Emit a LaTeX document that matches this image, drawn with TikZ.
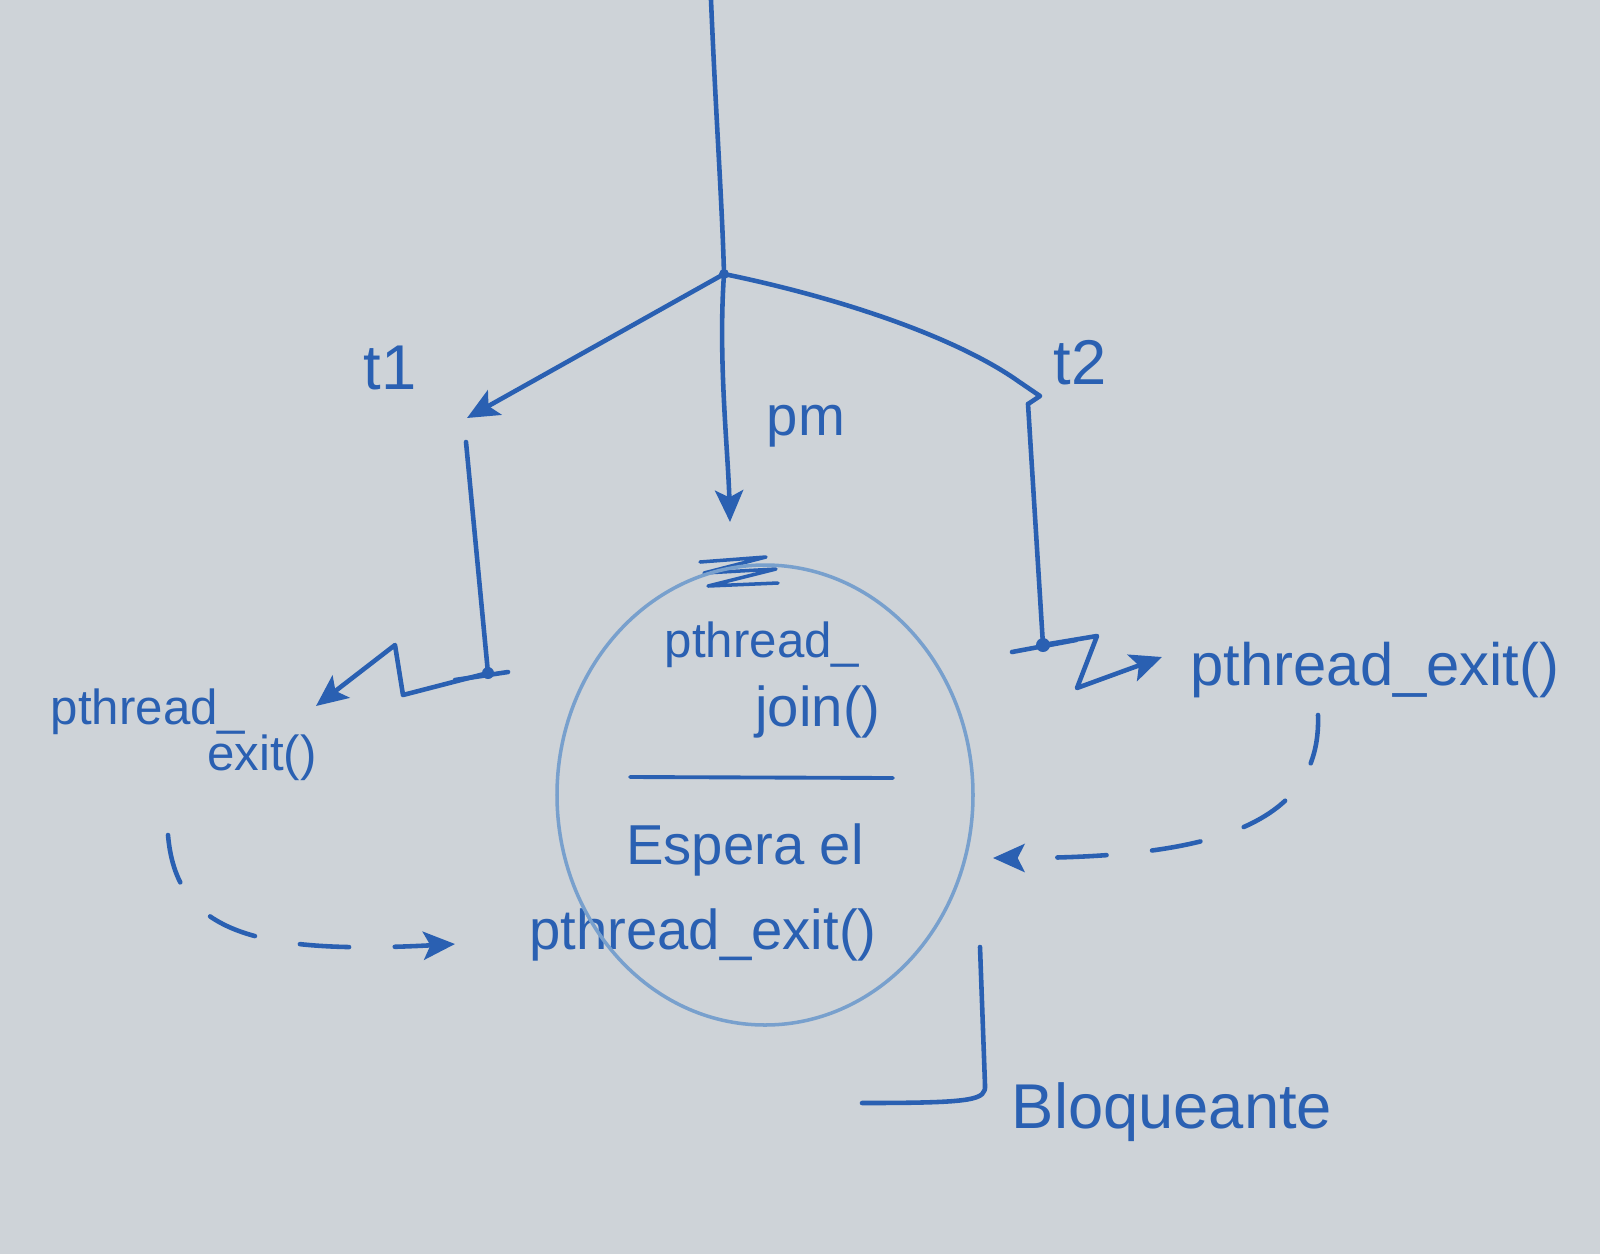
\documentclass[tikz,border=0pt]{standalone}
\usepackage{fontspec}
\setmainfont{Liberation Sans}
\usepackage{xcolor}
\usetikzlibrary{calc, positioning, arrows.meta}

\definecolor{marker}{RGB}{42,96,178}
\definecolor{board}{RGB}{206,211,216}
\definecolor{pencil}{RGB}{120,160,205}

\tikzset{
    pen/.style={draw=marker, line width=1.3pt, line cap=round, line join=round},
    dashpen/.style={pen, dash pattern=on 14pt off 13pt},
    hand/.style={text=marker, inner sep=1pt, font=\fontsize{16}{19}\selectfont},
    dot/.style={fill=marker}
}

\begin{document}
\begin{tikzpicture}[>={Stealth[length=9pt, width=8pt, inset=2pt]}, x=0.01cm, y=-0.01cm]

    % =================================================================
    % 1. FONDO (PIZARRA)
    % =================================================================
    \fill[board] (0,0) rectangle (1600,1254);
    \useasboundingbox (0,0) rectangle (1600,1254);

    % =================================================================
    % 2. PUNTOS PRINCIPALES
    % =================================================================
    \coordinate (Top) at (711,0);
    \coordinate (O) at (724,274);
    \coordinate (T1) at (467,418);
    \coordinate (L1) at (466,442);
    \coordinate (L2) at (488,673);
    \coordinate (Z1) at (403,695);
    \coordinate (Z2) at (395,645);
    \coordinate (Z3) at (316,706);
    \coordinate (M1) at (730,522);
    \coordinate (T2) at (1018,381);
    \coordinate (K1) at (1040,396);
    \coordinate (K2) at (1028,404);
    \coordinate (R2) at (1043,645);
    \coordinate (W1) at (1097,636);
    \coordinate (W2) at (1077,688);
    \coordinate (W3) at (1162,657);
    \coordinate (D1) at (168,835);
    \coordinate (D2) at (455,944);
    \coordinate (E1) at (1318,715);
    \coordinate (E2) at (993,858);

    % =================================================================
    % 3. TEXTOS
    % =================================================================
    \node[hand, font=\fontsize{18}{20}\selectfont] (t1) at (390,368) {t1};
    \node[hand, font=\fontsize{18}{20}\selectfont] (t2) at (1080,363) {t2};
    \node[hand] (pm) at (806,426) {pm};

    \node[hand, font=\fontsize{14}{17}\selectfont] (exitL1) at (148,712) {pthread\_};
    \node[hand, font=\fontsize{14}{17}\selectfont] (exitL2) at (262,758) {exit()};
    \node[hand, font=\fontsize{17}{20}\selectfont] (exitR) at (1375,670) {pthread\_exit()};

    \node[hand, font=\fontsize{14}{17}\selectfont] (join1) at (762,645) {pthread\_};
    \node[hand] (join2) at (818,712) {join()};
    \node[hand] (espera) at (745,850) {Espera el};
    \node[hand] (exitC) at (703,935) {pthread\_exit()};
    \node[hand, font=\fontsize{18}{21}\selectfont] (bloq) at (1172,1112) {Bloqueante};

    % =================================================================
    % 4. TRAZOS
    % =================================================================
    % Hilo principal y creacion de t1, t2
    \draw[pen] (Top) .. controls (716,120) and (722,200) .. (O);
    \draw[pen, ->] (O) -- (T1);
    \draw[pen, ->] (O) .. controls (718,360) and (728,450) .. (M1);
    \draw[pen] (O) .. controls (850,300) and (960,340) .. (T2) -- (K1) -- (K2);

    % t1 hasta su pthread_exit()
    \draw[pen] (L1) -- (L2);
    \draw[pen] (455,680) -- (508,672);
    \draw[pen, ->] (L2) -- (Z1) -- (Z2) -- (Z3);

    % t2 hasta su pthread_exit()
    \draw[pen] (K2) -- (R2);
    \draw[pen] (1012,652) -- (1076,640);
    \draw[pen, ->] (R2) -- (W1) -- (W2) -- (W3);

    % Tachon encima del circulo
    \draw[pen, line width=1pt] (700,562) -- (766,557) -- (704,573) -- (776,569) -- (708,586) -- (778,583);

    % Circulo de pthread_join()
    \draw[pencil, line width=1pt] (765,795) ellipse (208 and 230);
    \draw[pen, line width=1.1pt] (630,777) -- (893,778);

    % Flechas punteadas hacia la espera
    \draw[dashpen, ->] (D1) .. controls (176,930) and (250,955) .. (D2);
    \draw[dashpen, ->] (E1) .. controls (1322,830) and (1200,858) .. (E2);

    % Corchete de "Bloqueante"
    \draw[pen] (980,947) -- (985,1085) .. controls (986,1100) and (975,1103) .. (862,1103);

    % =================================================================
    % 5. PUNTOS (NUDOS)
    % =================================================================
    \fill[dot] (O) circle (5);
    \fill[dot] (L2) circle (6);
    \fill[dot] (R2) circle (7);

\end{tikzpicture}
\end{document}
